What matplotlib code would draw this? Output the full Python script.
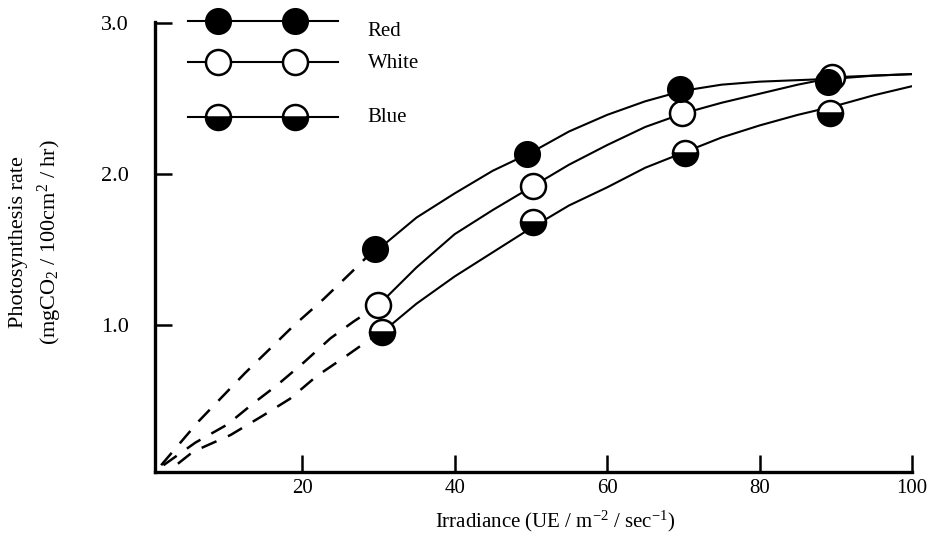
import matplotlib
matplotlib.use('Agg')
import matplotlib.pyplot as plt

plt.rcParams['font.family'] = ['Liberation Serif', 'DejaVu Serif']
plt.rcParams['mathtext.fontset'] = 'custom'
plt.rcParams['mathtext.rm'] = 'Liberation Serif'
plt.rcParams['mathtext.it'] = 'Liberation Serif:italic'

# measured points
red_x = [29.5, 49.5, 69.5, 89.0]
red_y = [1.50, 2.13, 2.56, 2.61]
white_x = [30.0, 50.3, 69.8, 89.5]
white_y = [1.13, 1.92, 2.40, 2.64]
blue_x = [30.5, 50.3, 70.2, 89.3]
blue_y = [0.95, 1.68, 2.14, 2.40]

# fitted (hand drawn) curves
curve_x = [30, 35, 40, 45, 50, 55, 60, 65, 70, 75, 80, 85, 90, 95, 100]
red_curve = [1.50, 1.71, 1.87, 2.02, 2.14, 2.28, 2.39, 2.48, 2.55, 2.59, 2.61, 2.62, 2.63, 2.65, 2.66]
white_curve = [1.13, 1.38, 1.60, 1.76, 1.91, 2.06, 2.19, 2.31, 2.40, 2.47, 2.53, 2.59, 2.64, 2.65, 2.66]
blue_curve = [0.93, 1.14, 1.32, 1.48, 1.64, 1.79, 1.91, 2.04, 2.14, 2.24, 2.32, 2.39, 2.45, 2.52, 2.58]

# extrapolated (dashed) parts towards the origin
red_dash_x = [1.5, 6.4, 12.5, 18.8, 22.8, 26.5, 29.5]
red_dash_y = [0.07, 0.36, 0.68, 0.99, 1.17, 1.35, 1.50]
white_dash_x = [1.8, 6.0, 10.2, 13.6, 16.7, 20.2, 23.7, 26.7, 30.0]
white_dash_y = [0.07, 0.22, 0.34, 0.48, 0.60, 0.75, 0.91, 1.02, 1.13]
blue_dash_x = [3.7, 5.7, 10.6, 14.9, 18.4, 21.9, 25.4, 28.5, 30.5]
blue_dash_y = [0.08, 0.16, 0.27, 0.40, 0.51, 0.66, 0.78, 0.89, 0.95]

x_ticks = [20, 40, 60, 80, 100]
y_ticks = [1.0, 2.0, 3.0]
labels = ['Red', 'White', 'Blue']

fig = plt.figure(figsize=(9.3, 5.33), dpi=100)
ax = fig.add_axes([0.1667, 0.1144, 0.814, 0.8443])

lw = 1.5
for cy in (red_curve, white_curve, blue_curve):
    ax.plot(curve_x, cy, color='black', lw=lw, zorder=2)
for dx, dy in ((red_dash_x, red_dash_y), (white_dash_x, white_dash_y),
               (blue_dash_x, blue_dash_y)):
    ax.plot(dx, dy, color='black', lw=1.8, ls=(0, (6.5, 5)), zorder=2)

ms = 18
styles = {
    'Red': dict(marker='o', markersize=ms, markerfacecolor='black',
                markeredgecolor='black', markeredgewidth=1.5),
    'White': dict(marker='o', markersize=ms, markerfacecolor='white',
                  markeredgecolor='black', markeredgewidth=1.8),
    'Blue': dict(marker='o', markersize=ms, fillstyle='bottom',
                 markerfacecolor='black', markerfacecoloralt='white',
                 markeredgecolor='black', markeredgewidth=1.8),
}
ax.plot(blue_x, blue_y, ls='none', zorder=3, **styles['Blue'])
ax.plot(white_x, white_y, ls='none', zorder=3, **styles['White'])
ax.plot(red_x, red_y, ls='none', zorder=4, **styles['Red'])

# hand-made key in the top left corner
row_y = [1.002, 0.911, 0.789]
text_y = [0.980, 0.907, 0.787]
for lab, ry, ty in zip(labels, row_y, text_y):
    ax.plot([0.0436, 0.2417], [ry, ry], color='black', lw=lw,
            transform=ax.transAxes, clip_on=False, zorder=3)
    ax.plot([0.0832, 0.185], [ry, ry], ls='none', transform=ax.transAxes,
            clip_on=False, zorder=4, **styles[lab])
    ax.text(0.281, ty, lab, transform=ax.transAxes, fontsize=15,
            va='center', ha='left')

ax.set_xlim(0.7, 100)
ax.set_ylim(0.025, 3.005)
ax.set_xticks(x_ticks)
ax.set_xticklabels([str(t) for t in x_ticks])
ax.set_yticks(y_ticks)
ax.set_yticklabels([f'{t:.1f}' for t in y_ticks])

for s in ('top', 'right'):
    ax.spines[s].set_visible(False)
for s in ('left', 'bottom'):
    ax.spines[s].set_linewidth(2.4)
ax.tick_params(axis='x', direction='in', length=12, width=1.8, pad=5, labelsize=15)
ax.tick_params(axis='y', direction='in', length=12, width=1.8, pad=19, labelsize=16)

ax.set_xlabel('Irradiance (UE / m$^{-2}$ / sec$^{-1}$)', fontsize=15)
ax.xaxis.set_label_coords(0.528, -0.082)
fig.text(0.020, 0.545, 'Photosynthesis rate', rotation=90, fontsize=16,
         ha='center', va='center')
fig.text(0.054, 0.545, '(mgCO$_2$ / 100cm$^2$ / hr)', rotation=90, fontsize=16,
         ha='center', va='center')

fig.savefig('out.png', dpi=100)
